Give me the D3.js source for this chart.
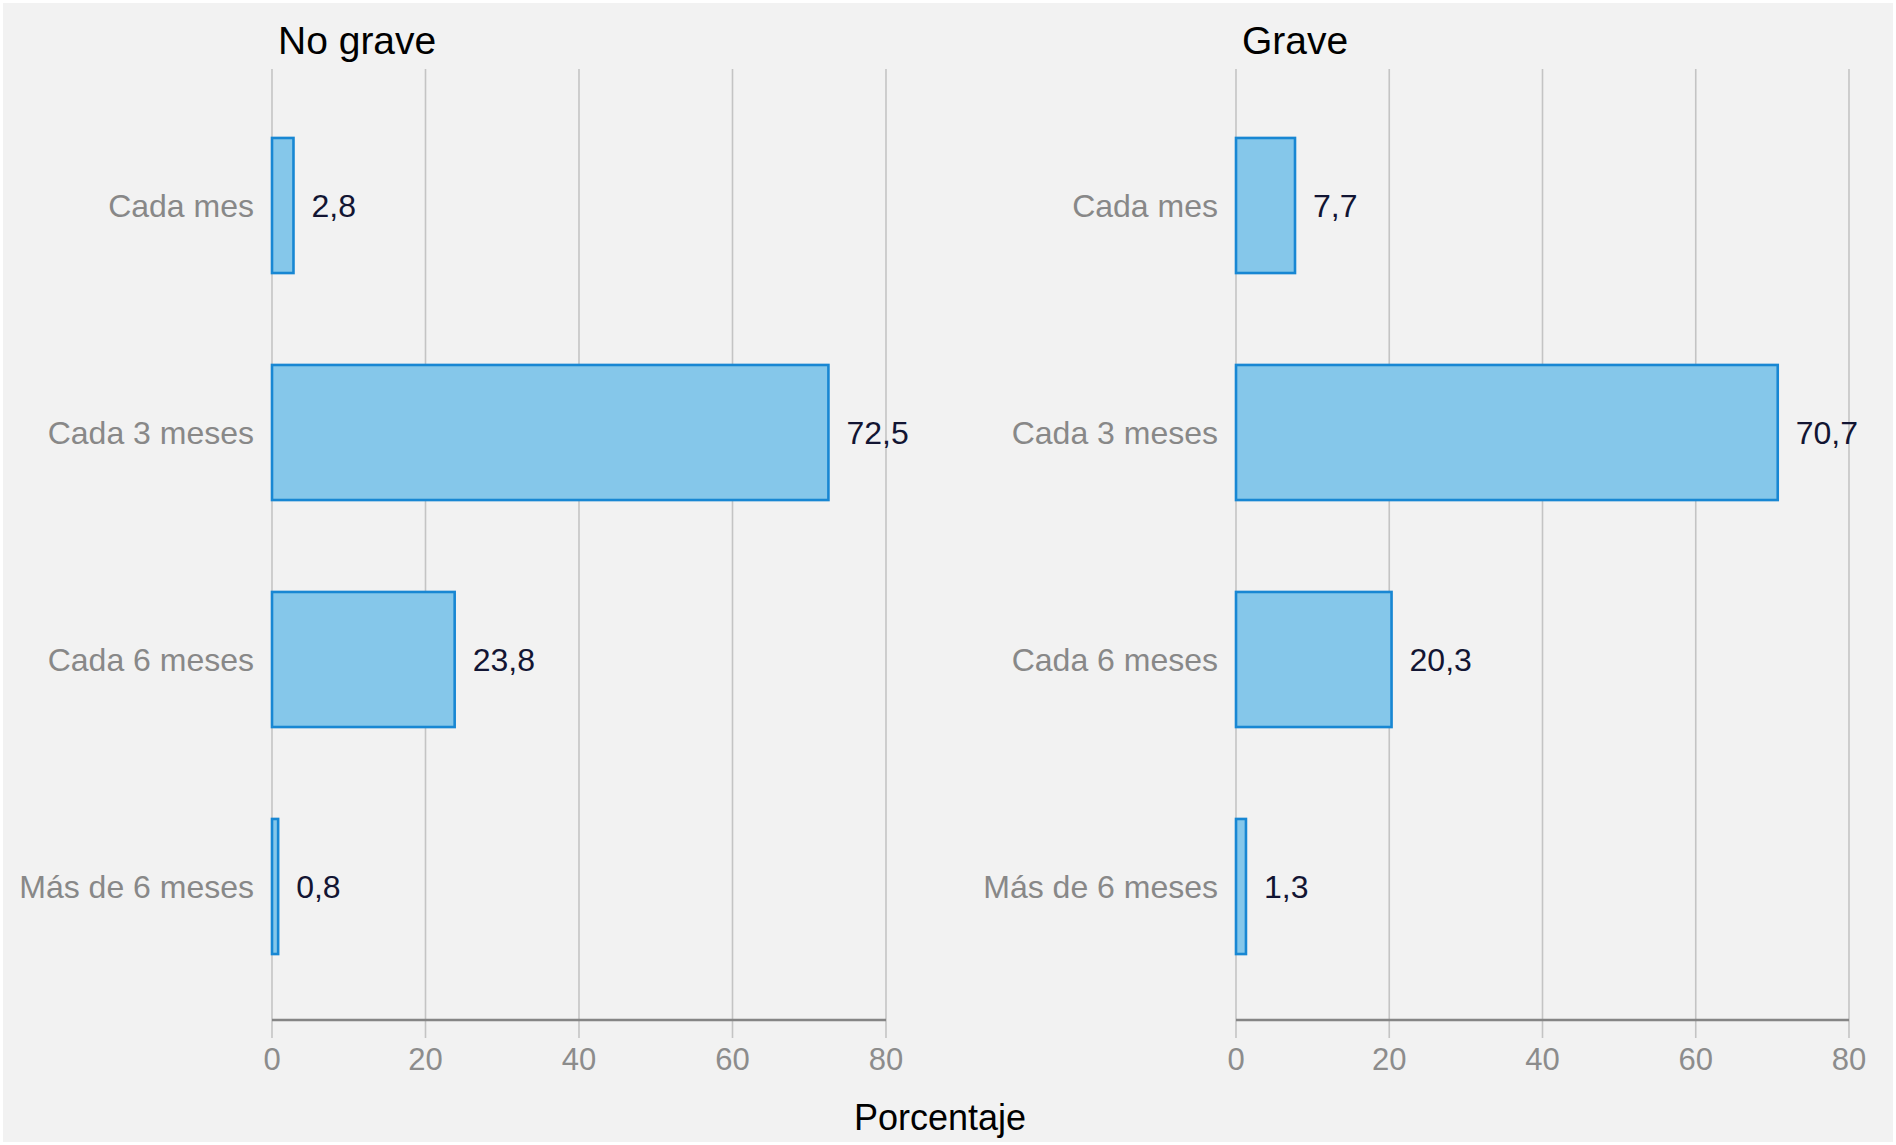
<!DOCTYPE html>
<html>
<head>
<meta charset="utf-8">
<script src="https://cdn.jsdelivr.net/npm/d3@7"></script>
<style>
  html, body { margin: 0; padding: 0; background: #ffffff; }
  svg { display: block; }
</style>
</head>
<body>
<svg id="chart" width="1896" height="1145"></svg>
<script>
const categories = ["Cada mes", "Cada 3 meses", "Cada 6 meses", "Más de 6 meses"];
const panelTitles = ["No grave", "Grave"];
const noGraveValues = [2.8, 72.5, 23.8, 0.8];
const graveValues = [7.7, 70.7, 20.3, 1.3];
const tickValues = [0, 20, 40, 60, 80];
const xAxisTitle = "Porcentaje";

const font = "'Liberation Sans', Arial, sans-serif";
const svg = d3.select("#chart");

svg.append("rect").attr("x", 3).attr("y", 3).attr("width", 1890).attr("height", 1139)
  .attr("fill", "#f2f2f2");

const gridTop = 69, axisY = 1020, tickBottom = 1038;

const y = d3.scaleBand().domain(categories).range([92, 1000])
  .paddingInner(0.405).paddingOuter(0.2025);

const panels = [
  { title: panelTitles[0], values: noGraveValues, x0: 272, x1: 886 },
  { title: panelTitles[1], values: graveValues, x0: 1236, x1: 1849 }
];

panels.forEach(p => {
  const x = d3.scaleLinear().domain([0, 80]).range([p.x0, p.x1]);
  const g = svg.append("g");

  g.selectAll("line.grid").data(tickValues).join("line")
    .attr("x1", d => x(d)).attr("x2", d => x(d))
    .attr("y1", gridTop).attr("y2", tickBottom)
    .attr("stroke", "#c4c4c4").attr("stroke-width", 1.6);

  g.append("line").attr("x1", x(0)).attr("x2", x(80))
    .attr("y1", axisY).attr("y2", axisY)
    .attr("stroke", "#858585").attr("stroke-width", 2.4);

  g.selectAll("text.tick").data(tickValues).join("text")
    .attr("x", d => x(d)).attr("y", 1059)
    .attr("text-anchor", "middle").attr("dominant-baseline", "central")
    .attr("font-family", font).attr("font-size", 31)
    .attr("fill", "#8c8c8c")
    .text(d => d);

  g.selectAll("rect.bar").data(p.values).join("rect")
    .attr("x", x(0))
    .attr("y", (d, i) => y(categories[i]))
    .attr("width", d => x(d) - x(0))
    .attr("height", y.bandwidth())
    .attr("fill", "#85c7ea")
    .attr("stroke", "#1887d3").attr("stroke-width", 2.6);

  g.selectAll("text.val").data(p.values).join("text")
    .attr("x", d => x(d) + 18)
    .attr("y", (d, i) => y(categories[i]) + y.bandwidth() / 2)
    .attr("dominant-baseline", "central")
    .attr("font-family", font).attr("font-size", 32)
    .attr("fill", "#121533")
    .text(d => String(d).replace(".", ","));

  g.selectAll("text.cat").data(categories).join("text")
    .attr("x", x(0) - 18)
    .attr("y", d => y(d) + y.bandwidth() / 2)
    .attr("text-anchor", "end").attr("dominant-baseline", "central")
    .attr("font-family", font).attr("font-size", 32)
    .attr("fill", "#888888")
    .text(d => d);

  g.append("text").attr("x", x(0) + 6).attr("y", 40)
    .attr("dominant-baseline", "central")
    .attr("font-family", font).attr("font-size", 39)
    .attr("fill", "#000")
    .text(p.title);
});

svg.append("text").attr("x", 940).attr("y", 1117)
  .attr("text-anchor", "middle").attr("dominant-baseline", "central")
  .attr("font-family", font).attr("font-size", 36)
  .attr("fill", "#000")
  .text(xAxisTitle);
</script>
</body>
</html>
